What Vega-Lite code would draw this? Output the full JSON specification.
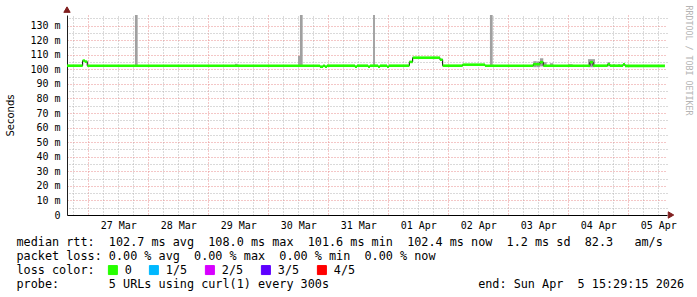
{
  "$schema": "https://vega.github.io/schema/vega-lite/v6.json",
  "width": 600,
  "height": 200,
  "autosize": {"type": "none"},
  "padding": {"left": 67, "top": 15, "right": 30, "bottom": 82},
  "background": "#ffffff",
  "config": {"view": {"stroke": null}, "font": "DejaVu Sans Mono"},
  "resolve": {"axis": {"x": "independent", "y": "independent"}},
  "datasets": {
    "median": [
      {"t": "2026-03-26T15:29:15Z", "t2": "2026-03-26T21:45:00Z", "med": 0.1025, "loss": "0"},
      {"t": "2026-03-26T21:45:00Z", "t2": "2026-03-26T22:40:00Z", "med": 0.1060, "loss": "0"},
      {"t": "2026-03-26T22:40:00Z", "t2": "2026-03-26T23:35:00Z", "med": 0.1053, "loss": "0"},
      {"t": "2026-03-26T23:35:00Z", "t2": "2026-03-30T20:40:00Z", "med": 0.1025, "loss": "0"},
      {"t": "2026-03-30T20:40:00Z", "t2": "2026-03-30T21:55:00Z", "med": 0.1018, "loss": "0"},
      {"t": "2026-03-30T21:55:00Z", "t2": "2026-03-30T22:40:00Z", "med": 0.1025, "loss": "0"},
      {"t": "2026-03-30T22:40:00Z", "t2": "2026-03-30T23:30:00Z", "med": 0.1018, "loss": "0"},
      {"t": "2026-03-30T23:30:00Z", "t2": "2026-03-31T10:40:00Z", "med": 0.1025, "loss": "0"},
      {"t": "2026-03-31T10:40:00Z", "t2": "2026-03-31T11:30:00Z", "med": 0.1018, "loss": "0"},
      {"t": "2026-03-31T11:30:00Z", "t2": "2026-03-31T15:55:00Z", "med": 0.1025, "loss": "0"},
      {"t": "2026-03-31T15:55:00Z", "t2": "2026-03-31T16:40:00Z", "med": 0.1018, "loss": "0"},
      {"t": "2026-03-31T16:40:00Z", "t2": "2026-03-31T19:55:00Z", "med": 0.1025, "loss": "0"},
      {"t": "2026-03-31T19:55:00Z", "t2": "2026-03-31T20:40:00Z", "med": 0.1018, "loss": "0"},
      {"t": "2026-03-31T20:40:00Z", "t2": "2026-03-31T23:30:00Z", "med": 0.1025, "loss": "0"},
      {"t": "2026-03-31T23:30:00Z", "t2": "2026-04-01T00:15:00Z", "med": 0.1018, "loss": "0"},
      {"t": "2026-04-01T00:15:00Z", "t2": "2026-04-01T08:25:00Z", "med": 0.1025, "loss": "0"},
      {"t": "2026-04-01T08:25:00Z", "t2": "2026-04-01T09:45:00Z", "med": 0.1051, "loss": "0"},
      {"t": "2026-04-01T09:45:00Z", "t2": "2026-04-01T20:40:00Z", "med": 0.1080, "loss": "0"},
      {"t": "2026-04-01T20:40:00Z", "t2": "2026-04-01T21:45:00Z", "med": 0.1066, "loss": "0"},
      {"t": "2026-04-01T21:45:00Z", "t2": "2026-04-02T05:45:00Z", "med": 0.1025, "loss": "0"},
      {"t": "2026-04-02T05:45:00Z", "t2": "2026-04-02T14:40:00Z", "med": 0.1032, "loss": "0"},
      {"t": "2026-04-02T14:40:00Z", "t2": "2026-04-03T10:00:00Z", "med": 0.1025, "loss": "0"},
      {"t": "2026-04-03T10:00:00Z", "t2": "2026-04-03T12:40:00Z", "med": 0.1035, "loss": "0"},
      {"t": "2026-04-03T12:40:00Z", "t2": "2026-04-03T14:00:00Z", "med": 0.1049, "loss": "0"},
      {"t": "2026-04-03T14:00:00Z", "t2": "2026-04-04T08:40:00Z", "med": 0.1025, "loss": "0"},
      {"t": "2026-04-04T08:40:00Z", "t2": "2026-04-04T09:55:00Z", "med": 0.1049, "loss": "0"},
      {"t": "2026-04-04T09:55:00Z", "t2": "2026-04-04T15:45:00Z", "med": 0.1025, "loss": "0"},
      {"t": "2026-04-04T15:45:00Z", "t2": "2026-04-04T16:40:00Z", "med": 0.1035, "loss": "0"},
      {"t": "2026-04-04T16:40:00Z", "t2": "2026-04-04T21:55:00Z", "med": 0.1025, "loss": "0"},
      {"t": "2026-04-04T21:55:00Z", "t2": "2026-04-04T22:40:00Z", "med": 0.1035, "loss": "0"},
      {"t": "2026-04-04T22:40:00Z", "t2": "2026-04-05T14:40:00Z", "med": 0.1024, "loss": "0"}
    ],
    "smoke": [
      {"t": "2026-03-27T18:40:00Z", "t2": "2026-03-27T19:45:00Z", "lo": 0.1020, "hi": 0.1600},
      {"t": "2026-03-29T10:40:00Z", "t2": "2026-03-29T11:45:00Z", "lo": 0.1020, "hi": 0.1038},
      {"t": "2026-03-30T11:55:00Z", "t2": "2026-03-30T12:40:00Z", "lo": 0.1020, "hi": 0.1092},
      {"t": "2026-03-30T12:40:00Z", "t2": "2026-03-30T13:45:00Z", "lo": 0.1020, "hi": 0.1600},
      {"t": "2026-03-31T17:55:00Z", "t2": "2026-03-31T18:40:00Z", "lo": 0.1020, "hi": 0.1600},
      {"t": "2026-04-01T17:45:00Z", "t2": "2026-04-01T18:50:00Z", "lo": 0.1070, "hi": 0.1086},
      {"t": "2026-04-02T16:40:00Z", "t2": "2026-04-02T17:45:00Z", "lo": 0.1020, "hi": 0.1600},
      {"t": "2026-04-03T10:00:00Z", "t2": "2026-04-03T11:20:00Z", "lo": 0.1015, "hi": 0.1056},
      {"t": "2026-04-03T11:20:00Z", "t2": "2026-04-03T12:40:00Z", "lo": 0.1015, "hi": 0.1054},
      {"t": "2026-04-03T12:40:00Z", "t2": "2026-04-03T14:00:00Z", "lo": 0.1020, "hi": 0.1076},
      {"t": "2026-04-03T14:00:00Z", "t2": "2026-04-03T15:20:00Z", "lo": 0.1020, "hi": 0.1049},
      {"t": "2026-04-03T16:40:00Z", "t2": "2026-04-03T18:00:00Z", "lo": 0.1020, "hi": 0.1042},
      {"t": "2026-04-03T23:55:00Z", "t2": "2026-04-04T01:45:00Z", "lo": 0.1020, "hi": 0.1035},
      {"t": "2026-04-04T07:55:00Z", "t2": "2026-04-04T10:40:00Z", "lo": 0.1015, "hi": 0.1070},
      {"t": "2026-04-04T15:45:00Z", "t2": "2026-04-04T16:40:00Z", "lo": 0.1020, "hi": 0.1049},
      {"t": "2026-04-04T17:55:00Z", "t2": "2026-04-04T18:40:00Z", "lo": 0.1020, "hi": 0.1035},
      {"t": "2026-04-04T19:55:00Z", "t2": "2026-04-04T20:40:00Z", "lo": 0.1020, "hi": 0.1035}
    ],
    "axisends": [
      {"t": "2026-03-26T15:29:15Z", "v": 0.1410, "dir": "up"},
      {"t": "2026-04-05T17:05:15Z", "v": 0, "dir": "right"}
    ]
  },
  "layer": [
    {
      "data": {"name": "smoke"},
      "mark": {"type": "rect", "color": "#a0a0a0", "clip": true},
      "encoding": {
        "x": {
          "field": "t", "type": "temporal",
          "scale": {"type": "utc", "domain": [1774538955000, 1775402955000]},
          "axis": {
            "orient": "bottom",
            "values": [1774569600000, 1774656000000, 1774742400000, 1774828800000, 1774915200000, 1775001600000, 1775088000000, 1775174400000, 1775260800000, 1775347200000],
            "grid": true, "gridColor": "#e88e8e", "gridDash": [1, 2], "gridWidth": 1,
            "ticks": false, "domain": true, "domainColor": "#000000", "domainWidth": 1,
            "labelExpr": "utcFormat(datum.value, '%d %b')",
            "labelOffset": 30, "labelPadding": 5,
            "labelFont": "DejaVu Sans Mono", "labelFontSize": 10, "labelColor": "#000000",
            "labelOverlap": false, "labelFlush": false, "labelBound": false,
            "title": [
              "median\u00a0rtt:\u00a0\u00a0102.7\u00a0ms\u00a0avg\u00a0\u00a0108.0\u00a0ms\u00a0max\u00a0\u00a0101.6\u00a0ms\u00a0min\u00a0\u00a0102.4\u00a0ms\u00a0now\u00a0\u00a01.2\u00a0ms\u00a0sd\u00a0\u00a082.3\u00a0\u00a0\u00a0am/s",
              "packet\u00a0loss:\u00a00.00\u00a0%\u00a0avg\u00a0\u00a00.00\u00a0%\u00a0max\u00a0\u00a00.00\u00a0%\u00a0min\u00a0\u00a00.00\u00a0%\u00a0now",
              "loss\u00a0color:",
              "probe:\u00a0\u00a0\u00a0\u00a0\u00a0\u00a0\u00a05\u00a0URLs\u00a0using\u00a0curl(1)\u00a0every\u00a0300s\u00a0\u00a0\u00a0\u00a0\u00a0\u00a0\u00a0\u00a0\u00a0\u00a0\u00a0\u00a0\u00a0\u00a0\u00a0\u00a0\u00a0\u00a0\u00a0\u00a0\u00a0end:\u00a0Sun\u00a0Apr\u00a0\u00a05\u00a015:29:15\u00a02026"
            ],
            "titleX": -51, "titleY": 30.5, "titleAlign": "left", "titleAnchor": "start",
            "titleBaseline": "alphabetic", "titleFont": "DejaVu Sans Mono", "titleFontSize": 11.8,
            "titleFontWeight": "normal", "titleLineHeight": 14, "titleColor": "#000000"
          }
        },
        "x2": {"field": "t2"},
        "y": {
          "field": "lo", "type": "quantitative",
          "scale": {"domain": [0, 0.1373], "nice": false, "zero": true},
          "axis": {
            "orient": "left",
            "values": [0, 0.01, 0.02, 0.03, 0.04, 0.05, 0.06, 0.07, 0.08, 0.09, 0.1, 0.11, 0.12, 0.13],
            "grid": true, "gridColor": "#e88e8e", "gridDash": [1, 2], "gridWidth": 1,
            "ticks": false, "domain": true, "domainColor": "#1e1e1e", "domainWidth": 1,
            "labelExpr": "datum.value == 0 ? '0\u00a0' : format(datum.value * 1000, '.0f') + '\u00a0m'",
            "labelPadding": 7, "labelFont": "DejaVu Sans Mono", "labelFontSize": 10, "labelColor": "#000000",
            "labelOverlap": false, "labelFlush": false,
            "title": "Seconds", "titleFont": "DejaVu Sans", "titleFontSize": 10, "titleFontWeight": "normal",
            "titleColor": "#000000", "titleX": -57, "titleY": 100, "titleAngle": 270,
            "titleAlign": "center", "titleBaseline": "middle"
          }
        },
        "y2": {"field": "hi"}
      }
    },
    {
      "data": {"name": "median"},
      "mark": {"type": "line", "color": "#000000", "strokeWidth": 1, "interpolate": "step-after"},
      "encoding": {
        "x": {
          "field": "t", "type": "temporal",
          "axis": {
            "orient": "top",
            "values": [1774548000000, 1774591200000, 1774612800000, 1774634400000, 1774677600000, 1774699200000, 1774720800000, 1774764000000, 1774785600000, 1774807200000, 1774850400000, 1774872000000, 1774893600000, 1774936800000, 1774958400000, 1774980000000, 1775023200000, 1775044800000, 1775066400000, 1775109600000, 1775131200000, 1775152800000, 1775196000000, 1775217600000, 1775239200000, 1775282400000, 1775304000000, 1775325600000, 1775368800000, 1775390400000],
            "grid": true, "gridColor": "#b4b4b4", "gridDash": [1, 2], "gridWidth": 1,
            "ticks": false, "domain": false, "labels": false, "title": null
          }
        },
        "y": {
          "field": "med", "type": "quantitative",
          "axis": {
            "orient": "right",
            "values": [0.005, 0.015, 0.025, 0.035, 0.045, 0.055, 0.065, 0.075, 0.085, 0.095, 0.105, 0.115, 0.125, 0.135],
            "grid": true, "gridColor": "#b4b4b4", "gridDash": [1, 2], "gridWidth": 1,
            "ticks": false, "domain": false, "labels": false,
            "title": "RRDTOOL / TOBI OETIKER", "titleAngle": 90, "titleX": 20, "titleY": -10,
            "titleAlign": "left", "titleBaseline": "middle", "titleFont": "DejaVu Sans Mono",
            "titleFontSize": 8.3, "titleFontWeight": "normal", "titleColor": "#b4b4b4"
          }
        }
      }
    },
    {
      "data": {"name": "median"},
      "mark": {"type": "rule", "strokeWidth": 2.6, "strokeCap": "butt"},
      "encoding": {
        "x": {"field": "t", "type": "temporal", "axis": null},
        "x2": {"field": "t2"},
        "y": {"field": "med", "type": "quantitative", "axis": null},
        "color": {
          "field": "loss", "type": "nominal",
          "scale": {"domain": ["0", "1/5", "2/5", "3/5", "4/5"], "range": ["#26ff00", "#00b8ff", "#d700ff", "#5e00ff", "#ff0000"]},
          "legend": {
            "orient": "none", "legendX": 40, "legendY": 249, "direction": "horizontal", "columns": 5,
            "title": null, "symbolType": "square", "symbolSize": 81,
            "symbolStrokeWidth": 1, "symbolStrokeColor": "#000000",
            "labelFont": "DejaVu Sans Mono", "labelFontSize": 11.8, "labelColor": "#000000",
            "labelOffset": 6, "columnPadding": 15, "padding": 0,
            "encode": {
              "symbols": {
                "update": {
                  "fill": {"scale": "color", "field": "value"},
                  "stroke": {"value": "#000000"},
                  "strokeWidth": {"value": 1},
                  "opacity": {"value": 1}
                }
              }
            }
          }
        }
      }
    },
    {
      "data": {"name": "axisends"},
      "mark": {"type": "point", "filled": true, "fill": "#801f1f", "stroke": "#801f1f", "strokeWidth": 1, "size": 40, "opacity": 1, "fillOpacity": 1, "clip": false},
      "encoding": {
        "x": {"field": "t", "type": "temporal", "axis": null},
        "y": {"field": "v", "type": "quantitative", "axis": null},
        "shape": {
          "field": "dir", "type": "nominal",
          "scale": {"domain": ["up", "right"], "range": ["triangle-up", "triangle-right"]},
          "legend": null
        }
      }
    }
  ]
}
